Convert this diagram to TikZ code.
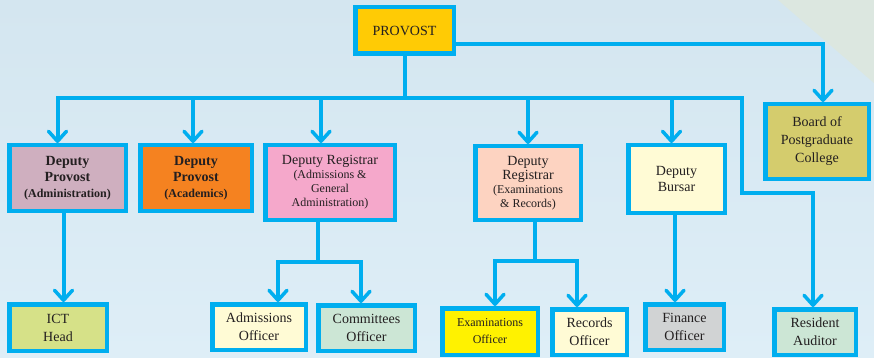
\documentclass[tikz,border=0pt]{standalone}
\usepackage{xcolor}
\usepackage{fontspec}
\setmainfont{Liberation Serif}
\usepackage{tikz}
\usetikzlibrary{arrows.meta,positioning,calc}

\definecolor{linkblue}{HTML}{00AEEF}
\definecolor{textdark}{HTML}{231F20}
\definecolor{bgtop}{HTML}{D4E6F0}
\definecolor{bgbot}{HTML}{DEEEF7}
\definecolor{bgcorner}{HTML}{DCE7E0}
\definecolor{provostfill}{HTML}{FFCB05}
\definecolor{mauvefill}{HTML}{CFAFBF}
\definecolor{orangefill}{HTML}{F58220}
\definecolor{pinkfill}{HTML}{F5A8CB}
\definecolor{peachfill}{HTML}{FDD3C1}
\definecolor{creamfill}{HTML}{FFFBD5}
\definecolor{olivefill}{HTML}{D4CC6D}
\definecolor{limefill}{HTML}{D6E188}
\definecolor{mintfill}{HTML}{CCE6D5}
\definecolor{yellowfill}{HTML}{FFF200}
\definecolor{greyfill}{HTML}{D1D3D4}

\begin{document}
\begin{tikzpicture}[x=1pt, y=-1pt,
        box/.style={draw=linkblue, line width=4.5pt, align=center, inner sep=0pt,
            text=textdark, font=\fontsize{14}{18}\selectfont},
        bigtext/.style={font=\fontsize{14}{16}\selectfont},
        smalltext/.style={font=\fontsize{12}{14}\selectfont},
        link/.style={draw=linkblue, line width=4pt},
        tip/.tip={Straight Barb[length=10pt,width=18pt,line width=3.5pt,round]},
        arr/.style={link, -tip},
        darr/.style={link, tip-tip}]
        % background
        \useasboundingbox (0,0) rectangle (874,358);
        \fill[top color=bgtop, bottom color=bgbot] (0,0) rectangle (874,358);
        \fill[bgcorner] (778,0) -- (874,0) -- (874,83) -- cycle;

        % Top
        \node[box, fill=provostfill, minimum width=98.5, minimum height=46.5] (provost) at (404.5,30.5) {PROVOST};
        \node[box, fill=olivefill, minimum width=103.5, minimum height=74.5] (board) at (817,141.5) {Board of\\Postgraduate\\College};

        % Deputies
        \node[box, bigtext, fill=mauvefill, minimum width=116.5, minimum height=65.5] (dpadmin) at (67.5,178)
            {\bfseries Deputy\\\bfseries Provost\\\fontsize{12}{14}\selectfont\bfseries (Administration)};
        \node[box, bigtext, fill=orangefill, minimum width=111.5, minimum height=65.5] (dpacad) at (196,178)
            {\bfseries Deputy\\\bfseries Provost\\\fontsize{12}{14}\selectfont\bfseries (Academics)};
        \node[box, smalltext, fill=pinkfill, minimum width=129.5, minimum height=74.5] (dradm) at (330,182.5)
            {\fontsize{14}{16}\selectfont Deputy Registrar\\(Admissions \&\\General\\Administration)};
        \node[box, smalltext, fill=peachfill, minimum width=105.5, minimum height=73.5] (drexam) at (528,183)
            {\fontsize{14}{16}\selectfont Deputy\\\fontsize{14}{16}\selectfont Registrar\\(Examinations\\\& Records)};
        \node[box, bigtext, fill=creamfill, minimum width=96.5, minimum height=67.5] (bursar) at (676.5,179) {Deputy\\Bursar};

        % Officers
        \node[box, fill=limefill, minimum width=97.5, minimum height=46.5] (ict) at (58,327.5) {ICT\\Head};
        \node[box, fill=creamfill, minimum width=93.5, minimum height=45.5] (admoff) at (259,327) {Admissions\\Officer};
        \node[box, fill=mintfill, minimum width=96.5, minimum height=45.5] (comoff) at (366.5,328) {Committees\\Officer};
        \node[box, fill=yellowfill, font=\fontsize{12}{17}\selectfont, minimum width=95.5, minimum height=46.5] (exoff) at (490,331.5) {Examinations\\Officer};
        \node[box, fill=creamfill, minimum width=74.5, minimum height=45.5] (recoff) at (589.5,332) {Records\\Officer};
        \node[box, fill=greyfill, minimum width=78.5, minimum height=45.5] (finoff) at (684.5,327) {Finance\\Officer};
        \node[box, fill=mintfill, minimum width=81.5, minimum height=45.5] (resaud) at (815,332) {Resident\\Auditor};

        % Bar under provost
        \coordinate (barR) at (742,98);
        \coordinate (resjog) at (742,193);
        \draw[link] (provost.south) -- (provost.south |- barR);
        \draw[darr] ([xshift=-10pt]dpadmin.north) |- (barR) -- (resjog) -| ([xshift=-2pt]resaud.north);
        \draw[arr] ([xshift=-3pt]dpacad.north |- barR) -- ([xshift=-3pt]dpacad.north);
        \draw[arr] ([xshift=-9pt]dradm.north |- barR) -- ([xshift=-9pt]dradm.north);
        \draw[arr] (drexam.north |- barR) -- (drexam.north);
        \draw[arr] ([xshift=-5pt]bursar.north |- barR) -- ([xshift=-5pt]bursar.north);
        \draw[arr] ([yshift=-13.5pt]provost.east) -| ([xshift=6pt]board.north);

        % Lower branches
        \coordinate (admjog) at (318,262);
        \coordinate (examjog) at (535,261);
        \draw[arr] ([xshift=-4pt]dpadmin.south) -- ([xshift=-4pt]dpadmin.south |- ict.north);
        \draw[link] (dradm.south -| admjog) -- (admjog);
        \draw[darr] ([xshift=19pt]admoff.north) |- (admjog) -| ([xshift=-5.5pt]comoff.north);
        \draw[link] (drexam.south -| examjog) -- (examjog);
        \draw[darr] ([xshift=5pt]exoff.north) |- (examjog) -| ([xshift=-12.5pt]recoff.north);
        \draw[arr] ([xshift=-1.5pt]bursar.south) -- ([xshift=-1.5pt]bursar.south |- finoff.north);
    \end{tikzpicture}
\end{document}
